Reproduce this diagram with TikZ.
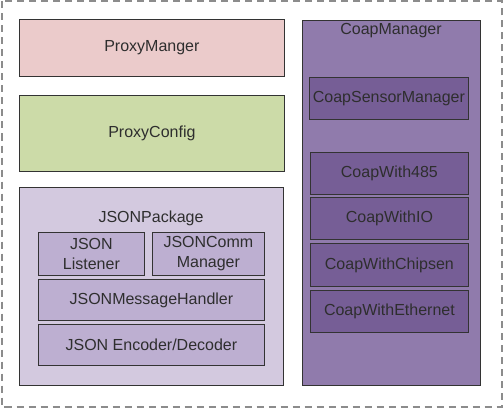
\documentclass[tikz,border=0pt]{standalone}
\usepackage{fontspec}
\setmainfont{Liberation Sans}
\definecolor{mgrfill}{HTML}{EBCBCB}
\definecolor{cfgfill}{HTML}{CCDBA8}
\definecolor{pkgfill}{HTML}{D3C9DF}
\definecolor{jsonfill}{HTML}{BDAFD1}
\definecolor{coapfill}{HTML}{907BAC}
\definecolor{coapin}{HTML}{765E96}
\definecolor{txtgray}{HTML}{2E2E2E}
\tikzset{
  box/.style={draw=black!80, line width=0.8pt, inner sep=0pt, anchor=north west,
    text=txtgray, font=\fontsize{16}{20}\selectfont, align=center},
  lbl/.style={text=txtgray, font=\fontsize{16}{20}\selectfont}
}

\begin{document}
\begin{tikzpicture}[x=1pt, y=-1pt]
  \useasboundingbox (0,0) rectangle (503,409);
  \draw[gray!90, line width=2pt, dash pattern=on 7pt off 5pt]
    (1.5,1.5) rectangle (501.5,406.5);
  % left column
  \node[box, fill=mgrfill, minimum width=265pt, minimum height=57pt] (mgr) at (19,19) {ProxyManger};
  \node[box, fill=cfgfill, minimum width=265pt, minimum height=76pt] (cfg) at (19,95) {ProxyConfig};
  \node[box, fill=pkgfill, minimum width=264pt, minimum height=198pt] (pkg) at (19,187) {};
  \node[lbl] (pkglbl) at (151,218) {JSONPackage};
  \node[box, fill=jsonfill, minimum width=106pt, minimum height=43pt] (listener) at (38,232) {JSON\\Listener};
  \node[box, fill=jsonfill, minimum width=112pt, minimum height=43pt] (comm) at (152,232) {JSONComm\\Manager};
  \node[box, fill=jsonfill, minimum width=226pt, minimum height=41pt] (handler) at (38,279) {JSONMessageHandler};
  \node[box, fill=jsonfill, minimum width=226pt, minimum height=41pt] (codec) at (38,324) {JSON Encoder/Decoder};
  % right column
  \node[box, fill=coapfill, minimum width=178pt, minimum height=365pt] (coap) at (302,20) {};
  \node[lbl] (coaplbl) at (391,31) {CoapManager};
  \node[box, fill=coapin, minimum width=159pt, minimum height=42pt] (sensor) at (309,77) {CoapSensorManager};
  \node[box, fill=coapin, minimum width=158pt, minimum height=42pt] (rs485) at (310,152) {CoapWith485};
  \node[box, fill=coapin, minimum width=158pt, minimum height=42pt] (io) at (310,197) {CoapWithIO};
  \node[box, fill=coapin, minimum width=158pt, minimum height=43pt] (chipsen) at (310,243) {CoapWithChipsen};
  \node[box, fill=coapin, minimum width=158pt, minimum height=42pt] (ether) at (310,290) {CoapWithEthernet};
\end{tikzpicture}
\end{document}
